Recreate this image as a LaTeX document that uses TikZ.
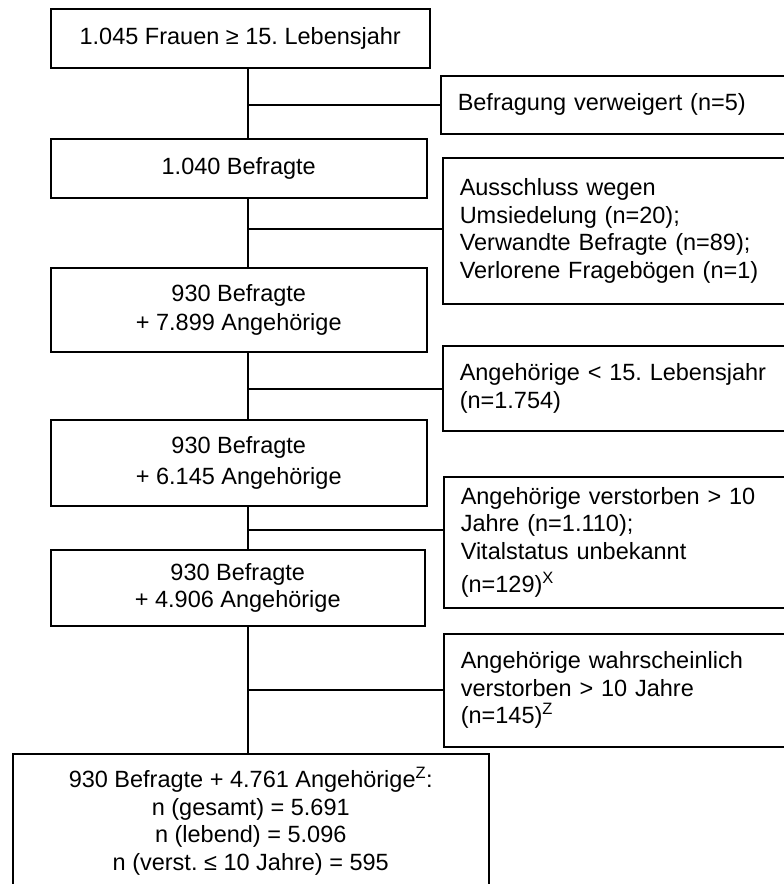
\documentclass[tikz,border=0pt]{standalone}
\usepackage{fontspec}
\setmainfont{Liberation Sans}
\frenchspacing
\begin{document}
\begin{tikzpicture}[x=1pt,y=-1pt,
		box/.style={draw,line width=1.5pt,inner sep=0pt,anchor=north west,font=\fontsize{23.5}{27.5}\selectfont},
		mainbox/.style={box,align=center},
		sidebox/.style={box,align=left,text width=326pt,inner xsep=17pt},
		link/.style={line width=1.5pt}]
		\clip (0,0) rectangle (784,884);
		\fill[white] (0,0) rectangle (784,884);
		\coordinate (trunk) at (248,0);
		\node[mainbox,minimum width=379pt,minimum height=59pt] (frauen) at (50,8) {1.045 Frauen ≥ 15. Lebensjahr};
		\node[mainbox,minimum width=376pt,minimum height=59pt] (befragte) at (50,138) {1.040 Befragte};
		\node[mainbox,minimum width=376pt,minimum height=84pt] (angeh1) at (50,267) {930 Befragte\\[2pt]+ 7.899 Angehörige};
		\node[mainbox,minimum width=376pt,minimum height=86pt] (angeh2) at (50,419) {930 Befragte\\[3pt]+ 6.145 Angehörige};
		\node[mainbox,minimum width=374pt,minimum height=76pt] (angeh3) at (50,549) {930 Befragte\\+ 4.906 Angehörige};
		\node[mainbox,minimum width=476pt,minimum height=135pt] (gesamt) at (12,753) {930 Befragte + 4.761 Angehörige\textsuperscript{Z}:\\n (gesamt) = 5.691\\n (lebend) = 5.096\\n (verst. ≤ 10 Jahre) = 595};
		\node[sidebox,minimum height=58pt] (verweigert) at (440,75) {Befragung verweigert (n=5)};
		\node[sidebox,minimum height=146pt] (ausschluss) at (442,157) {Ausschluss wegen\\Umsiedelung (n=20);\\Verwandte Befragte (n=89);\\Verlorene Fragebögen (n=1)};
		\node[sidebox,minimum height=85pt] (unter15) at (442,345) {Angehörige < 15. Lebensjahr\\(n=1.754)};
		\node[sidebox,minimum height=131pt] (verstorben) at (443,476) {Angehörige verstorben > 10\\Jahre (n=1.110);\\Vitalstatus unbekannt\\[6pt](n=129)\textsuperscript{X}};
		\node[sidebox,minimum height=113pt] (wahrsch) at (443,633) {Angehörige wahrscheinlich\\verstorben > 10 Jahre\\(n=145)\textsuperscript{Z}};
		\draw[link] (frauen.south -| trunk) -- (befragte.north -| trunk);
		\draw[link] (befragte.south -| trunk) -- (angeh1.north -| trunk);
		\draw[link] (angeh1.south -| trunk) -- (angeh2.north -| trunk);
		\draw[link] (angeh2.south -| trunk) -- (angeh3.north -| trunk);
		\draw[link] (angeh3.south -| trunk) -- (gesamt.north -| trunk);
		\draw[link] (verweigert.west) -- (verweigert.west -| trunk);
		\draw[link] ([yshift=2pt]ausschluss.west) -- ([yshift=2pt]ausschluss.west -| trunk);
		\draw[link] ([yshift=-0.5pt]unter15.west) -- ([yshift=-0.5pt]unter15.west -| trunk);
		\draw[link] ([yshift=12.5pt]verstorben.west) -- ([yshift=12.5pt]verstorben.west -| trunk);
		\draw[link] ([yshift=0.5pt]wahrsch.west) -- ([yshift=0.5pt]wahrsch.west -| trunk);
	\end{tikzpicture}
\end{document}
